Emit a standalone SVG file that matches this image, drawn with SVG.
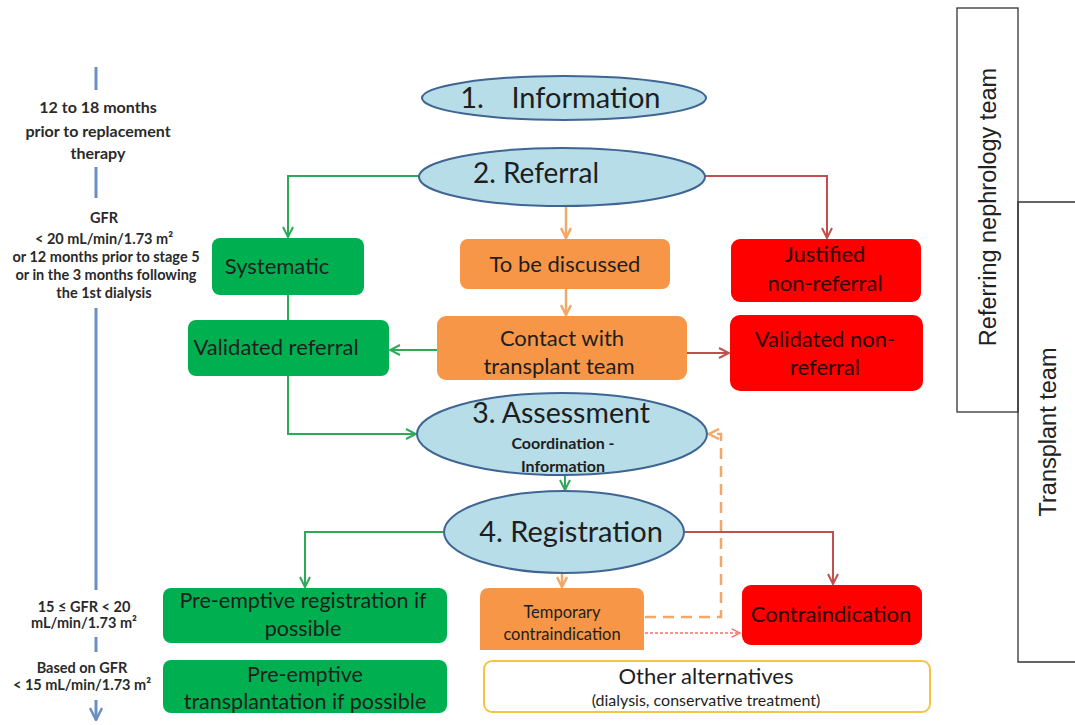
<svg xmlns="http://www.w3.org/2000/svg" width="1075" height="725" viewBox="0 0 1075 725">
<style>
.ell{fill:#b7dde8;stroke:#3f6593;stroke-width:2}
.g{fill:#00b050}
.o{fill:#f79646}
.r{fill:#ff0000}
.t{font-family:Lato,"Open Sans",sans-serif;fill:#1e1e1e;text-anchor:middle}
.rt{font-family:Lato,"Open Sans",sans-serif;fill:#2e0000;text-anchor:middle}
.ax{font-family:Lato,"Open Sans",sans-serif;font-weight:bold;fill:#2a2a2a;text-anchor:middle}
.team{font-family:"Liberation Sans",Arial,sans-serif;font-size:23.5px;fill:#222;text-anchor:middle}
.cg{fill:none;stroke:#2eaa57;stroke-width:2}
.co{fill:none;stroke:#f2a868;stroke-width:2.5}
.cr{fill:none;stroke:#c0504d;stroke-width:2}
.cb{fill:none;stroke:#6b8fc2;stroke-width:3}
</style>
<defs>
<marker id="ag" viewBox="0 0 12 12" refX="11" refY="6" markerWidth="12" markerHeight="12" markerUnits="userSpaceOnUse" orient="auto"><path d="M1,1 L11,6 L1,11" fill="none" stroke="#2eaa57" stroke-width="2"/></marker>
<marker id="ao" viewBox="0 0 12 12" refX="11" refY="6" markerWidth="12" markerHeight="12" markerUnits="userSpaceOnUse" orient="auto"><path d="M1,1 L11,6 L1,11" fill="none" stroke="#f2a868" stroke-width="2.5"/></marker>
<marker id="ar" viewBox="0 0 12 12" refX="11" refY="6" markerWidth="12" markerHeight="12" markerUnits="userSpaceOnUse" orient="auto"><path d="M1,1 L11,6 L1,11" fill="none" stroke="#c0504d" stroke-width="2"/></marker>
<marker id="ard" viewBox="0 0 12 12" refX="11" refY="6" markerWidth="10" markerHeight="10" markerUnits="userSpaceOnUse" orient="auto"><path d="M1,1 L11,6 L1,11" fill="none" stroke="#ff6a6a" stroke-width="1.5"/></marker>
<marker id="ab" viewBox="0 0 14 14" refX="13" refY="7" markerWidth="14" markerHeight="14" markerUnits="userSpaceOnUse" orient="auto"><path d="M1,1 L13,7 L1,13" fill="none" stroke="#6b8fc2" stroke-width="2.5"/></marker>
</defs>
<rect width="1075" height="725" fill="#ffffff"/>

<g id="timeline">
<line class="cb" x1="96" y1="67" x2="96" y2="90"/>
<line class="cb" x1="96" y1="167" x2="96" y2="198"/>
<line class="cb" x1="96" y1="308" x2="96" y2="590"/>
<line class="cb" x1="96" y1="637" x2="96" y2="652"/>
<line class="cb" x1="96" y1="700" x2="96" y2="720" marker-end="url(#ab)"/>
<text class="ax" font-size="16"><tspan x="98" y="113">12 to 18 months</tspan><tspan x="98" y="137">prior to replacement</tspan><tspan x="98" y="159">therapy</tspan></text>
<text class="ax" font-size="14.5"><tspan x="104" y="223">GFR</tspan><tspan x="104" y="244">&lt; 20 mL/min/1.73 m²</tspan><tspan x="106" y="262">or 12 months prior to stage 5</tspan><tspan x="106" y="280">or in the 3 months following</tspan><tspan x="104" y="298">the 1st dialysis</tspan></text>
<text class="ax" font-size="14.5"><tspan x="84" y="612">15 ≤ GFR &lt; 20</tspan><tspan x="84" y="628">mL/min/1.73 m²</tspan></text>
<text class="ax" font-size="14.5"><tspan x="82" y="673">Based on GFR</tspan><tspan x="82" y="690">&lt; 15 mL/min/1.73 m²</tspan></text>
</g>

<g id="connectors">
<path class="cg" d="M420,176 H288 V237" marker-end="url(#ag)"/>
<path class="cg" d="M288,295 V320"/>
<path class="cg" d="M288,376 V434 H416" marker-end="url(#ag)"/>
<path class="cg" d="M437,350 H390" marker-end="url(#ag)"/>
<path class="co" d="M566,206 V238" marker-end="url(#ao)"/>
<path class="co" d="M566,289 V315" marker-end="url(#ao)"/>
<path class="cr" d="M705,176 H827 V238" marker-end="url(#ar)"/>
<path class="cr" d="M687,353 H729" marker-end="url(#ar)"/>
<path class="cg" d="M565,475 V490" marker-end="url(#ag)"/>
<path class="cg" d="M445,532 H305 V587" marker-end="url(#ag)"/>
<path class="cr" d="M684,532 H833 V584" marker-end="url(#ar)"/>
<path class="co" d="M562,574 V587" marker-end="url(#ao)"/>
<path class="co" d="M645,617 H721 V434 H709" stroke-width="3" stroke-dasharray="11,7" marker-end="url(#ao)"/>
<path d="M645,633 H740" fill="none" stroke="#ff6a6a" stroke-width="1.3" stroke-dasharray="3,2" marker-end="url(#ard)"/>
</g>

<g id="n-information">
<ellipse class="ell" cx="564" cy="98" rx="142" ry="22"/>
<text class="t" font-size="29" y="108"><tspan x="472">1.</tspan><tspan x="586">Information</tspan></text>
</g>
<g id="n-referral">
<ellipse class="ell" cx="562" cy="177" rx="143" ry="29"/>
<text class="t" font-size="28" x="536" y="183">2. Referral</text>
</g>
<g id="n-systematic">
<rect class="g" x="212" y="238" width="152" height="57" rx="8"/>
<text class="t" font-size="22" x="277" y="274">Systematic</text>
</g>
<g id="n-discussed">
<rect class="o" x="460" y="239" width="210" height="50" rx="8"/>
<text class="t" font-size="22" x="565" y="272">To be discussed</text>
</g>
<g id="n-justified">
<rect class="r" x="731" y="239" width="190" height="63" rx="9"/>
<text class="rt" font-size="22"><tspan x="825" y="262">Justified</tspan><tspan x="825" y="291">non-referral</tspan></text>
</g>
<g id="n-validated-referral">
<rect class="g" x="188" y="320" width="201" height="56" rx="8"/>
<text class="t" font-size="22" x="276" y="355">Validated referral</text>
</g>
<g id="n-contact">
<rect class="o" x="437" y="316" width="250" height="64" rx="9"/>
<text class="t" font-size="22"><tspan x="562" y="346">Contact with</tspan><tspan x="559" y="374">transplant team</tspan></text>
</g>
<g id="n-validated-nonreferral">
<rect class="r" x="730" y="315" width="193" height="76" rx="10"/>
<text class="rt" font-size="22"><tspan x="825" y="347">Validated non-</tspan><tspan x="825" y="375">referral</tspan></text>
</g>
<g id="n-assessment">
<ellipse class="ell" cx="562" cy="434" rx="145" ry="41"/>
<text class="t" font-size="28.5" x="561" y="423">3. Assessment</text>
<text class="t" font-size="16" font-weight="bold"><tspan x="563" y="449">Coordination -</tspan><tspan x="563" y="472">Information</tspan></text>
</g>
<g id="n-registration">
<ellipse class="ell" cx="564" cy="532" rx="120" ry="41"/>
<text class="t" font-size="29" x="571" y="542">4. Registration</text>
</g>
<g id="n-preemptive-registration">
<rect class="g" x="163" y="588" width="284" height="55" rx="8"/>
<text class="t" font-size="21.5"><tspan x="303" y="608">Pre-emptive registration if</tspan><tspan x="303" y="636">possible</tspan></text>
</g>
<g id="n-preemptive-transplantation">
<rect class="g" x="163" y="660" width="284" height="53" rx="8"/>
<text class="t" font-size="21.5"><tspan x="305" y="682">Pre-emptive</tspan><tspan x="305" y="709">transplantation if possible</tspan></text>
</g>
<g id="n-temporary">
<path class="o" d="M489,588 H635 Q644,588 644,597 V650 H480 V597 Q480,588 489,588 Z"/>
<text class="t" font-size="16.5"><tspan x="562" y="618">Temporary</tspan><tspan x="562" y="640">contraindication</tspan></text>
</g>
<g id="n-contraindication">
<rect class="r" x="742" y="585" width="180" height="60" rx="9"/>
<text class="rt" font-size="22" x="831" y="622">Contraindication</text>
</g>
<g id="n-other">
<rect x="484" y="661" width="446" height="51" rx="8" fill="#ffffff" stroke="#f4c542" stroke-width="2"/>
<text class="t" font-size="22" x="706" y="684">Other alternatives</text>
<text class="t" font-size="16" x="706" y="706">(dialysis, conservative  treatment)</text>
</g>

<g id="n-referring-team">
<rect x="957" y="8" width="61" height="404" fill="none" stroke="#333" stroke-width="1.3"/>
<text class="team" transform="translate(996,207) rotate(-90)">Referring nephrology team</text>
</g>
<g id="n-transplant-team">
<path d="M1076,202 H1018 V662 H1076" fill="none" stroke="#333" stroke-width="1.3"/>
<text class="team" transform="translate(1056,432) rotate(-90)">Transplant team</text>
</g>
</svg>
